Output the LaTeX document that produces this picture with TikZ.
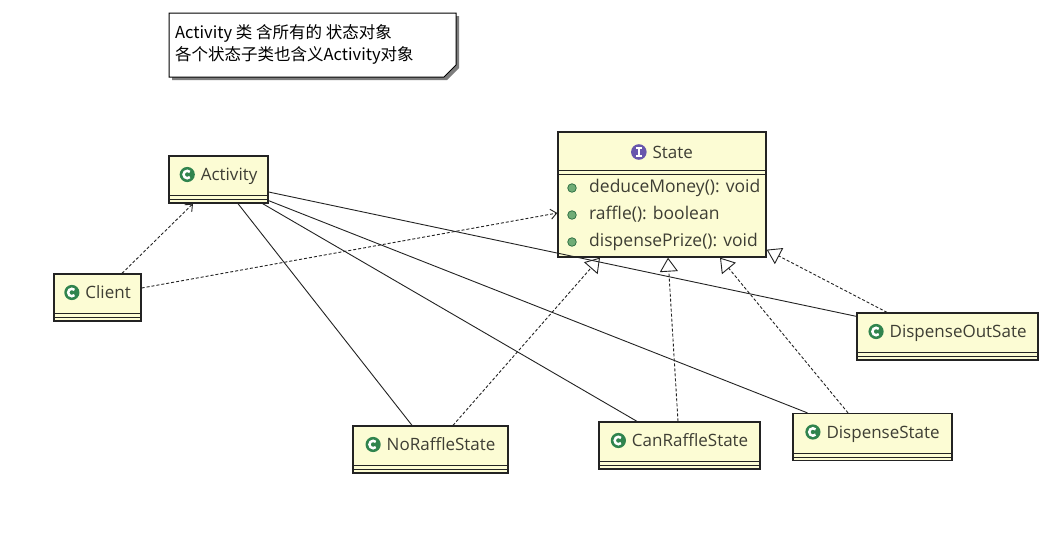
\documentclass[tikz,border=0pt]{standalone}
\usepackage{fontspec}
\setmainfont{Open Sans}
\newfontfamily\cjk{Noto Sans CJK SC}
\usepackage{tikz}
\usetikzlibrary{arrows.meta,positioning}
\definecolor{ClassFill}{RGB}{252,252,212}
\definecolor{ClassLine}{RGB}{35,35,35}
\definecolor{ClassText}{RGB}{62,62,52}
\definecolor{IconGreen}{RGB}{48,132,78}
\definecolor{IconPurple}{RGB}{104,86,172}
\definecolor{DotGreen}{RGB}{112,172,118}
\definecolor{NoteShadow}{RGB}{125,125,125}

\newcommand{\classicon}{\tikz[x=1pt,y=1pt,baseline=-6pt]{\fill[IconGreen] (0pt,0pt) circle (7.6pt); \draw[white,line width=2.5pt] (45:3.7pt) arc (45:315:3.7pt);}}
\newcommand{\ifaceicon}{\tikz[x=1pt,y=1pt,baseline=-6pt]{\fill[IconPurple] (0pt,0pt) circle (7.8pt); \draw[white,line width=2.2pt] (0pt,-3.9pt) -- (0pt,3.9pt); \draw[white,line width=1.5pt] (-2.7pt,3.9pt) -- (2.7pt,3.9pt) (-2.7pt,-3.9pt) -- (2.7pt,-3.9pt);}}

\tikzset{
  classbox/.style={draw=ClassLine, fill=ClassFill, line width=1.3pt, text=ClassText,
    font=\fontsize{17}{19}\selectfont, minimum height=47pt, inner xsep=0pt,
    text height=10pt, text depth=8pt},
  classline/.style={draw=ClassLine, line width=1.1pt},
  method/.style={anchor=west, inner sep=0pt, text=ClassText,
    font=\fontsize{17.5}{19}\selectfont, text height=12pt, text depth=3pt},
  methoddot/.style={fill=DotGreen, draw=IconGreen!80!black, line width=0.7pt},
  assoc/.style={draw=ClassLine, line width=0.9pt},
  depend/.style={draw=ClassLine, line width=0.9pt, dash pattern=on 3pt off 2pt,
    -{Straight Barb[length=6pt,width=10pt,line width=0.9pt]}},
  realize/.style={draw=ClassLine, line width=0.9pt, dash pattern=on 3pt off 2pt,
    -{Triangle[open,length=14pt,width=18pt,line width=0.9pt]}}
}

\begin{document}
\begin{tikzpicture}[x=1pt,y=-1pt]
\useasboundingbox (0,0) rectangle (1056,544);
\fill[white] (0,0) rectangle (1056,544);

% note
\fill[NoteShadow] (172,16) -- (459,16) -- (459,68) -- (447,80) -- (172,80) -- cycle;
\draw[fill=white, line width=1pt] (169,13) -- (456,13) -- (456,65) -- (444,77) -- (169,77) -- cycle;
\node[anchor=west, align=left, inner sep=0pt, font=\cjk\fontsize{16.5}{22}\selectfont] (notetext) at (175,44)
{Activity 类 含所有的 状态对象\\各个状态子类也含义Activity对象};

% classes
\node[classbox, minimum width=99pt] (Activity) at (218.5,179.5) {\classicon\hspace{6pt}Activity};
\node[classbox, minimum width=87pt] (Client) at (97.5,297.5) {\classicon\hspace{6pt}Client};
\node[classbox, minimum width=181pt] (DispenseOutSate) at (947.5,336.5) {\classicon\hspace{6pt}DispenseOutSate};
\node[classbox, minimum width=155pt] (NoRaffleState) at (430.5,449.5) {\classicon\hspace{6pt}NoRaffleState};
\node[classbox, minimum width=161pt] (CanRaffleState) at (679.5,445.5) {\classicon\hspace{6pt}CanRaffleState};
\node[classbox, minimum width=159pt] (DispenseState) at (872.5,437) {\classicon\hspace{6pt}DispenseState};
\foreach \c in {Activity,Client,DispenseOutSate,NoRaffleState,CanRaffleState,DispenseState} {
  \draw[classline] ([yshift=8pt]\c.south west) -- ([yshift=8pt]\c.south east);
  \draw[classline] ([yshift=4pt]\c.south west) -- ([yshift=4pt]\c.south east);
}

% interface
\node[classbox, minimum width=208pt, minimum height=125pt] (State) at (662,194.5) {};
\node[inner sep=0pt, text=ClassText, font=\fontsize{17}{19}\selectfont] (StateTitle) at (662,152) {\ifaceicon\hspace{6pt}State};
\draw[classline] ([yshift=-39pt]State.north west) -- ([yshift=-39pt]State.north east);
\draw[classline] ([yshift=-43pt]State.north west) -- ([yshift=-43pt]State.north east);
\foreach \m/\yy [count=\i] in {deduceMoney(): void/188, raffle(): boolean/215, dispensePrize(): void/242} {
  \filldraw[methoddot] (572,\yy) circle (4.3pt);
  \node[method] (m\i) at (589,\yy) {\m};
}

% connectors
\draw[depend] ([xshift=24.5pt]Client.north) -- ([xshift=-25.5pt]Activity.south);
\draw[depend] ([yshift=9.5pt]Client.east) -- ([yshift=-18.5pt]State.west);
\draw[assoc] ([xshift=19.5pt]Activity.south) -- ([xshift=-18.5pt]NoRaffleState.north);
\draw[assoc] ([xshift=-6pt]Activity.south east) -- ([xshift=-42.5pt]CanRaffleState.north);
\draw[assoc] ([yshift=3pt]Activity.south east) -- ([xshift=15pt]DispenseState.north west);
\draw[assoc] ([yshift=-12.5pt]Activity.east) -- ([yshift=-4pt]DispenseOutSate.north west);
\draw[realize] ([xshift=22.5pt]NoRaffleState.north) -- ([xshift=-62pt]State.south);
\draw[realize] ([xshift=-1.5pt]CanRaffleState.north) -- ([xshift=6pt]State.south);
\draw[realize] ([xshift=-24.5pt]DispenseState.north) -- ([xshift=58pt]State.south);
\draw[realize] ([xshift=-60.5pt]DispenseOutSate.north) -- ([yshift=8pt]State.south east);
\end{tikzpicture}
\end{document}
